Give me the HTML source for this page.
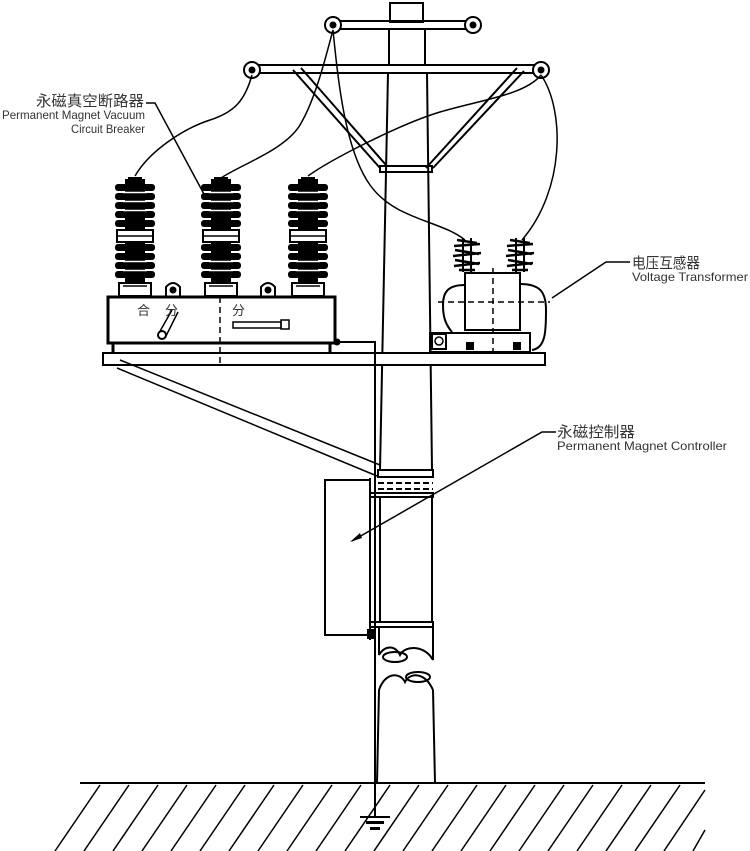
<!DOCTYPE html>
<html><head><meta charset="utf-8"><style>
html,body{margin:0;padding:0;background:#fff;width:750px;height:851px;overflow:hidden}
svg{display:block}
text{font-family:"Liberation Sans","Noto Sans CJK SC",sans-serif;fill:#333}
</style></head><body>
<svg width="750" height="851" viewBox="0 0 750 851" xmlns="http://www.w3.org/2000/svg">
<defs>
<g id="ins">
 <rect x="-10" y="2" width="20" height="112" fill="#000"/>
 <rect x="-7" y="0" width="14" height="5" fill="#000"/>
 <g fill="#000">
  <rect x="-20" y="7" width="40" height="7" rx="3"/>
  <rect x="-20" y="16" width="40" height="7" rx="3"/>
  <rect x="-20" y="25" width="40" height="7" rx="3"/>
  <rect x="-20" y="34" width="40" height="7" rx="3"/>
  <rect x="-20" y="43" width="40" height="7" rx="3"/>
  <rect x="-20" y="67" width="40" height="7" rx="3"/>
  <rect x="-20" y="76" width="40" height="7" rx="3"/>
  <rect x="-20" y="85" width="40" height="7" rx="3"/>
  <rect x="-20" y="94" width="40" height="7" rx="3"/>
 </g>
 <g stroke="#fff" stroke-width="1.5">
  <line x1="-12" y1="15.5" x2="12" y2="15.5"/><line x1="-12" y1="24.5" x2="12" y2="24.5"/>
  <line x1="-12" y1="33.5" x2="12" y2="33.5"/><line x1="-12" y1="84.5" x2="12" y2="84.5"/>
  <line x1="-12" y1="93.5" x2="12" y2="93.5"/>
 </g>
 <rect x="-18" y="53" width="36" height="12" fill="#fff" stroke="#000" stroke-width="2"/>
 <line x1="-18" y1="59" x2="18" y2="59" stroke="#000" stroke-width="1.5"/>
 <rect x="-16" y="106" width="32" height="13" fill="#fff" stroke="#000" stroke-width="2"/>
 <line x1="-12" y1="109" x2="12" y2="109" stroke="#000" stroke-width="1.5"/>
</g>
<g id="vtins" fill="none" stroke="#000" stroke-width="2.5">
 <path d="M-10,0 l20,3 M-13,6 l26,-2 M-12,10 l24,4 M-14,16 l28,-3 M-12,20 l24,4 M-13,26 l26,-3 M-8,30 l16,0"/>
 <path d="M-4,-2 v34 M4,-2 v34" stroke-width="2"/>
</g>
</defs>

<g fill="none" stroke="#000" stroke-width="2">
<rect x="390" y="3" width="33" height="19"/>
<path d="M389,30 L389,65 M425,30 L425,65"/>
<path d="M388,73 L380,470 M427,73 L432,470"/>
<path d="M380,497 L380,622 M432,497 L432,622"/>
<path d="M379,627 L379,655 M433,627 L433,660"/>
<path d="M379,655 C385,645 395,645 400,655 C405,645 425,645 433,660"/>
<path d="M379,690 C385,672 400,672 405,682 C410,672 425,672 433,690"/>
<path d="M379,690 L377,783 M433,690 L435,783"/>
<ellipse cx="395" cy="657" rx="12" ry="5"/>
<ellipse cx="418" cy="677" rx="12" ry="5"/>
<rect x="338" y="21" width="131" height="8"/>
<rect x="258" y="65" width="278" height="8"/>
<circle cx="333" cy="25" r="8" fill="#fff"/><circle cx="333" cy="25" r="2.5" fill="#000"/>
<circle cx="473" cy="25" r="8" fill="#fff"/><circle cx="473" cy="25" r="2.5" fill="#000"/>
<circle cx="252" cy="70" r="8" fill="#fff"/><circle cx="252" cy="70" r="2.5" fill="#000"/>
<circle cx="541" cy="70" r="8" fill="#fff"/><circle cx="541" cy="70" r="2.5" fill="#000"/>
<path d="M293,70 L380,168 M301,68 L386,165"/>
<path d="M517,68 L426,168 M524,71 L433,168"/>
<rect x="380" y="166" width="52" height="6"/>
<path d="M252,75 C245,100 235,112 210,120 S150,150 135,176" stroke-width="1.5"/>
<path d="M333,30 C325,60 315,100 300,125 S240,165 221,178" stroke-width="1.5"/>
<path d="M333,30 C338,80 345,150 370,185 S440,220 465,240" stroke-width="1.5"/>
<path d="M541,75 C525,95 480,100 440,112 S330,160 308,176" stroke-width="1.5"/>
<path d="M541,75 C565,110 565,190 522,240" stroke-width="1.5"/>
<rect x="103" y="353" width="442" height="12" fill="#fff"/>
<rect x="108" y="297" width="227" height="46" stroke-width="3"/>
<path d="M113,343 v10 M330,343 v10" stroke-width="3"/>
<path d="M220,297 V365" stroke-dasharray="6,4" stroke-width="1.5"/>
<path d="M166,297 v-10 q7,-8 14,0 v10 M261,297 v-10 q7,-8 14,0 v10"/>
<circle cx="173" cy="290" r="2.5" fill="#000"/><circle cx="268" cy="290" r="2.5" fill="#000"/>
<path d="M159,333 L172,310 M166,336 L178,312" stroke-width="1.5"/>
<circle cx="162" cy="335" r="4"/>
<rect x="233" y="322" width="48" height="6" stroke-width="1.5"/>
<rect x="281" y="320" width="8" height="9" stroke-width="1.5"/>
<path d="M120,360 L380,465 M117,368 L377,476" stroke-width="1.5"/>
<path d="M335,342 H375 V817" stroke-width="2"/>
<path d="M370,478 V640" stroke-width="2"/>
<rect x="430" y="333" width="100" height="19"/>
<rect x="432" y="334" width="14" height="15"/>
<rect x="465" y="273" width="55" height="57"/>
<path d="M465,285 C448,285 443,292 443,305 C443,318 446,325 452,332"/>
<path d="M520,284 C540,284 546,292 546,310 C546,330 546,348 532,350"/>
<path d="M438,302 H550 M493,268 V352" stroke-dasharray="6,4" stroke-width="1.5"/>
<rect x="378" y="470" width="55" height="7"/>
<path d="M378,483 H433 M378,489 H433" stroke-dasharray="6,3"/>
<rect x="370" y="493" width="63" height="4"/>
<rect x="370" y="622" width="63" height="5"/>
<rect x="325" y="480" width="45" height="155"/>
<path d="M80,783 H705"/>
<path d="M360,817 H390"/>
<path d="M146,103 L155,103 L205,196" stroke-width="1.5"/>
<path d="M630,262 L606,262 L552,298" stroke-width="1.5"/>
<path d="M556,432 L542,432 L352,541" stroke-width="1.5"/>
</g>
<rect x="366" y="821" width="18" height="3" fill="#000"/>
<rect x="370" y="827" width="10" height="3" fill="#000"/>
<rect x="367" y="629" width="8" height="10" fill="#000"/>
<polygon points="350,542 360,533 362,538" fill="#000"/>
<rect x="466" y="342" width="8" height="8" fill="#000"/>
<rect x="513" y="342" width="8" height="8" fill="#000"/>
<circle cx="439" cy="341" r="4" fill="none" stroke="#000" stroke-width="1.5"/>
<circle cx="337" cy="342" r="3.5" fill="#000"/>
<g stroke="#000" stroke-width="1.5" fill="none">
<path d="M100,785 L55,851 M129,785 L84,851 M158,785 L113,851 M187,785 L142,851 M216,785 L171,851 M245,785 L200,851 M274,785 L229,851 M303,785 L258,851 M332,785 L287,851 M361,785 L316,851 M390,785 L345,851 M419,785 L374,851 M448,785 L403,851 M477,785 L432,851 M506,785 L461,851 M535,785 L490,851 M564,785 L519,851 M593,785 L548,851 M622,785 L577,851 M651,785 L606,851 M680,785 L635,851 M705,790 L664,851 M705,830 L693,851"/>
</g>
<use href="#ins" x="135" y="177"/>
<use href="#ins" x="221" y="177"/>
<use href="#ins" x="308" y="177"/>
<use href="#vtins" x="467" y="240"/>
<use href="#vtins" x="520" y="240"/>
<text x="137" y="315" font-size="13" fill="#444">合</text>
<text x="165" y="315" font-size="13" fill="#444">分</text>
<text x="232" y="315" font-size="13" fill="#444">分</text>
<text x="36" y="106" font-size="15" textLength="108" lengthAdjust="spacingAndGlyphs">永磁真空断路器</text>
<text x="2" y="119" font-size="12" textLength="143" lengthAdjust="spacingAndGlyphs">Permanent Magnet Vacuum</text>
<text x="71" y="133" font-size="12" textLength="74" lengthAdjust="spacingAndGlyphs">Circuit Breaker</text>
<text x="632" y="268" font-size="15" textLength="68" lengthAdjust="spacingAndGlyphs">电压互感器</text>
<text x="632" y="281" font-size="12" textLength="116" lengthAdjust="spacingAndGlyphs">Voltage Transformer</text>
<text x="557" y="437" font-size="15" textLength="78" lengthAdjust="spacingAndGlyphs">永磁控制器</text>
<text x="557" y="450" font-size="12" textLength="170" lengthAdjust="spacingAndGlyphs">Permanent Magnet Controller</text>
</svg>
</body></html>
